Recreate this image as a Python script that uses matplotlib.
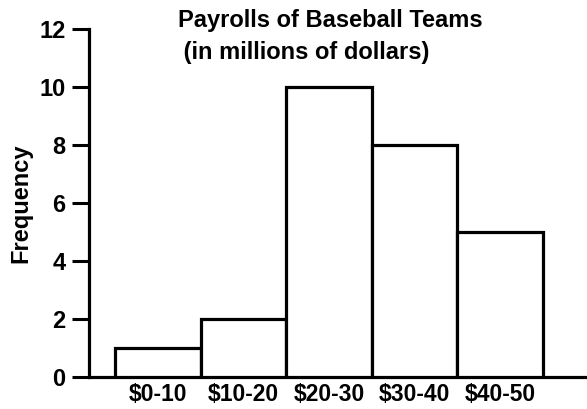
import matplotlib
matplotlib.use("Agg")
import matplotlib.pyplot as plt
import numpy as np

# histogram data
bins = ["$0-10", "$10-20", "$20-30", "$30-40", "$40-50"]
freq = [1, 2, 10, 8, 5]
yticks = [0, 2, 4, 6, 8, 10, 12]

plt.rcParams['font.family'] = ['Liberation Sans', 'DejaVu Sans']
plt.rcParams['font.weight'] = 'bold'

W, H = 587, 409
fig = plt.figure(figsize=(W / 100, H / 100), dpi=100)
ax = fig.add_axes([89 / W, 32 / H, 1 - 89 / W, 348 / H])

x = np.arange(len(bins))
ax.bar(x, freq, width=1.0, color='white', edgecolor='black', linewidth=2.3,
       zorder=3)

ax.set_xlim(-0.804, 5.014)
ax.set_ylim(0, 12)
ax.set_yticks(yticks)
ax.set_yticklabels([str(t) for t in yticks], fontsize=17, fontweight='bold')
ax.set_xticks(x)
ax.set_xticklabels(bins, fontsize=16.5, fontweight='bold')
ax.tick_params(axis='y', length=12, width=2.2, pad=5)
ax.tick_params(axis='x', length=0, pad=4)

for s in ['top', 'right']:
    ax.spines[s].set_visible(False)
for s in ['left', 'bottom']:
    ax.spines[s].set_linewidth(2.3)
ax.spines['left'].set_zorder(4)

ax.set_ylabel('Frequency', fontsize=17, fontweight='bold', labelpad=4.5)

fig.text(330 / W, 1 - 20 / H, 'Payrolls of Baseball Teams', ha='center',
         va='center', fontsize=17, fontweight='bold')
fig.text(303 / W, 1 - 52 / H, ' (in millions of dollars)', ha='center',
         va='center', fontsize=17, fontweight='bold')

fig.savefig('out.png', dpi=100)
